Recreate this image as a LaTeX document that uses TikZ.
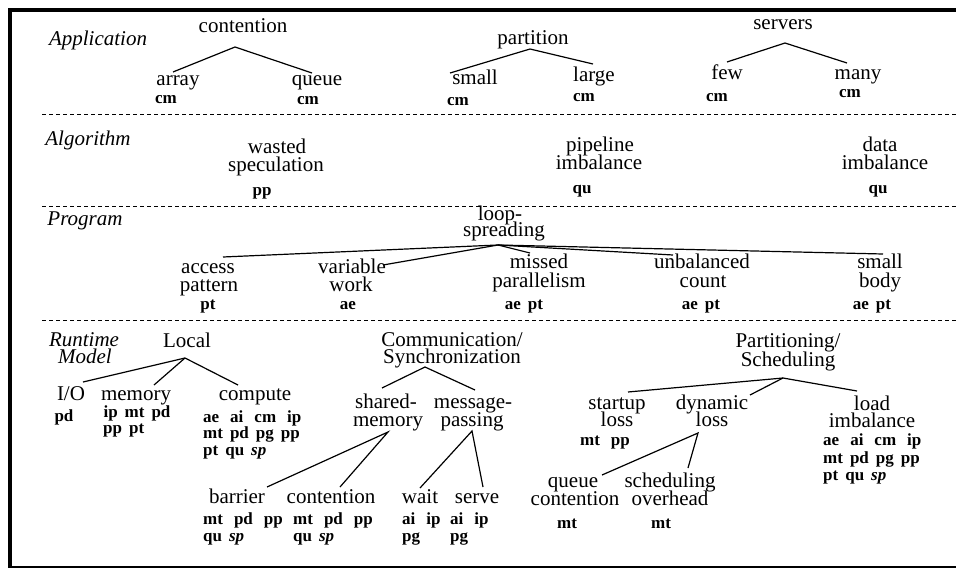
\documentclass[tikz,border=0pt]{standalone}
\usepackage{fontspec}
\setmainfont{Liberation Serif}
\newcommand{\cg}{\hspace{11pt}}
\newcommand{\codefont}{\fontsize{17}{17}\selectfont\bfseries\spaceskip 7pt\relax}
\begin{document}
\begin{tikzpicture}[x=1pt,y=-1pt,
  lab/.style={font=\fontsize{21}{21}\selectfont, anchor=base, inner sep=0pt},
  lvl/.style={font=\fontsize{21}{21}\selectfont\itshape, anchor=base, inner sep=0pt},
  code/.style={font=\codefont, anchor=base, inner sep=0pt},
  codel/.style={code, anchor=base west},
  edge/.style={line width=1.2pt},
  sep/.style={dash pattern=on 4pt off 3pt, line width=0.9pt}]
\useasboundingbox (0,0) rectangle (956,570);
% frame
\draw[line width=4pt] (8,10) -- (956,10);
\draw[line width=4pt] (10,8) -- (10,568);
\draw[line width=2pt] (8,567) -- (956,567);
% separators
\draw[sep] (42,114) -- (956,114);
\draw[sep] (42,206) -- (956,206);
\draw[sep] (42,320) -- (956,320);
% level labels
\node[lvl] (lApp) at (98,45) {Application};
\node[lvl] (lAlg) at (88,145) {Algorithm};
\node[lvl] (lPrg) at (85,225) {Program};
\node[lvl] (lRt1) at (84,346) {Runtime};
\node[lvl] (lRt2) at (85,363) {Model};
% ---------- Application ----------
\node[lab] (contention) at (243,32) {contention};
\node[lab] (array) at (178,85) {array};
\node[lab] (queue) at (317,85) {queue};
\node[code] (cmA) at (166,103) {cm};
\node[code] (cmQ) at (308,104) {cm};
\node[lab] (partition) at (533,44) {partition};
\node[lab] (smallP) at (475,84) {small};
\node[lab] (large) at (594,81) {large};
\node[code] (cmS) at (458,105) {cm};
\node[code] (cmL) at (584,101) {cm};
\node[lab] (servers) at (783,29) {servers};
\node[lab] (few) at (727,79) {few};
\node[lab] (many) at (858,79) {many};
\node[code] (cmF) at (717,101) {cm};
\node[code] (cmM) at (850,97) {cm};
\coordinate (ctT) at (235,47); \coordinate (ctL) at (173,72); \coordinate (ctR) at (312,73);
\coordinate (paT) at (530,49); \coordinate (paL) at (450,73); \coordinate (paR) at (593,64);
\coordinate (seT) at (785,43); \coordinate (seL) at (727,62); \coordinate (seR) at (847,63);
\draw[edge] (ctL) -- (ctT) -- (ctR);
\draw[edge] (paL) -- (paT) -- (paR);
\draw[edge] (seL) -- (seT) -- (seR);
% ---------- Algorithm ----------
\node[lab] (ws1) at (277,153) {wasted};
\node[lab] (ws2) at (276,171) {speculation};
\node[code] (wsC) at (262,195) {pp};
\node[lab] (pi1) at (600,151) {pipeline};
\node[lab] (pi2) at (599,169) {imbalance};
\node[code] (piC) at (582,193) {qu};
\node[lab] (di1) at (880,151) {data};
\node[lab] (di2) at (885,169) {imbalance};
\node[code] (diC) at (878,193) {qu};
% ---------- Program ----------
\node[lab] (ls1) at (500,220) {loop-};
\node[lab] (ls2) at (504,236) {spreading};
\node[lab] (ap1) at (208,273) {access};
\node[lab] (ap2) at (209,291) {pattern};
\node[code] (apC) at (208,309) {pt};
\node[lab] (vw1) at (352,273) {variable};
\node[lab] (vw2) at (351,291) {work};
\node[code] (vwC) at (348,309) {ae};
\node[lab] (mp1) at (539,268) {missed};
\node[lab] (mp2) at (539,287) {parallelism};
\node[code] (mpC) at (524,309) {ae pt};
\node[lab] (uc1) at (702,268) {unbalanced};
\node[lab] (uc2) at (703,287) {count};
\node[code] (ucC) at (701,309) {ae pt};
\node[lab] (sb1) at (880,268) {small};
\node[lab] (sb2) at (880,287) {body};
\node[code] (sbC) at (872,309) {ae pt};
\coordinate (lsT) at (498,245);
\coordinate (lsA) at (223,257); \coordinate (lsV) at (383,265);
\coordinate (lsM) at (530,253); \coordinate (lsU) at (673,255); \coordinate (lsS) at (883,254);
\draw[edge] (lsT) -- (lsA);
\draw[edge] (lsT) -- (lsV);
\draw[edge] (lsT) -- (lsM);
\draw[edge] (lsT) -- (lsU);
\draw[edge] (lsT) -- (lsS);
% ---------- Runtime: Local ----------
\node[lab] (local) at (187,347) {Local};
\node[lab] (io) at (71,400) {I/O};
\node[lab] (mem) at (136,400) {memory};
\node[lab] (comp) at (255,400) {compute};
\node[code] (ioC) at (64,421) {pd};
\node[code] (memC1) at (137,417) {ip mt pd};
\node[codel] (memC2) at (103,433) {pp pt};
\node[codel] (coC1) at (203,422) {ae\cg ai\cg cm\cg ip};
\node[codel] (coC2) at (203,438) {mt pd pg pp};
\node[codel] (coC3) at (203,455) {pt qu \textit{sp}};
\coordinate (loT) at (185,358);
\coordinate (loI) at (83,382); \coordinate (loM) at (154,385); \coordinate (loC) at (238,385);
\draw[edge] (loT) -- (loI);
\draw[edge] (loT) -- (loM);
\draw[edge] (loT) -- (loC);
% ---------- Runtime: Communication ----------
\node[lab] (cs1) at (452,346) {Communication/};
\node[lab] (cs2) at (452,363) {Synchronization};
\node[lab] (sh1) at (386,408) {shared-};
\node[lab] (sh2) at (388,426) {memory};
\node[lab] (ms1) at (473,408) {message-};
\node[lab] (ms2) at (472,426) {passing};
\node[lab] (bar) at (237,503) {barrier};
\node[lab] (cont) at (331,503) {contention};
\node[lab] (wait) at (420,503) {wait};
\node[lab] (serve) at (477,503) {serve};
\node[codel] (barC1) at (203,524) {mt\cg pd\cg pp};
\node[codel] (barC2) at (203,541) {qu \textit{sp}};
\node[codel] (conC1) at (293,524) {mt\cg pd\cg pp};
\node[codel] (conC2) at (293,541) {qu \textit{sp}};
\node[codel] (waC1) at (402,524) {ai\cg ip};
\node[codel] (waC2) at (402,541) {pg};
\node[codel] (svC1) at (450,524) {ai\cg ip};
\node[codel] (svC2) at (450,541) {pg};
\coordinate (csT) at (425,367); \coordinate (csL) at (382,388); \coordinate (csR) at (475,390);
\coordinate (shT) at (388,432); \coordinate (shL) at (267,487); \coordinate (shR) at (340,487);
\coordinate (msT) at (472,431); \coordinate (msL) at (420,488); \coordinate (msR) at (483,487);
\draw[edge] (csL) -- (csT) -- (csR);
\draw[edge] (shL) -- (shT) -- (shR);
\draw[edge] (msL) -- (msT) -- (msR);
% ---------- Runtime: Partitioning ----------
\node[lab] (ps1) at (788,347) {Partitioning/};
\node[lab] (ps2) at (788,366) {Scheduling};
\node[lab] (st1) at (617,409) {startup};
\node[lab] (st2) at (617,426) {loss};
\node[code] (stC) at (605,445) {mt\cg pp};
\node[lab] (dy1) at (712,409) {dynamic};
\node[lab] (dy2) at (712,426) {loss};
\node[lab] (qc1) at (573,487) {queue};
\node[lab] (qc2) at (575,505) {contention};
\node[code] (qcC) at (567,528) {mt};
\node[lab] (so1) at (670,487) {scheduling};
\node[lab] (so2) at (670,505) {overhead};
\node[code] (soC) at (661,528) {mt};
\node[lab] (li1) at (872,410) {load};
\node[lab] (li2) at (872,427) {imbalance};
\node[codel] (liC1) at (823,445) {ae\cg ai\cg cm\cg ip};
\node[codel] (liC2) at (823,463) {mt pd pg pp};
\node[codel] (liC3) at (823,480) {pt qu \textit{sp}};
\coordinate (psT) at (783,378);
\coordinate (psS) at (628,392); \coordinate (psD) at (750,395); \coordinate (psL) at (857,391);
\coordinate (dyT) at (698,433); \coordinate (dyQ) at (602,475); \coordinate (dyS) at (688,468);
\draw[edge] (psT) -- (psS);
\draw[edge] (psT) -- (psD);
\draw[edge] (psT) -- (psL);
\draw[edge] (dyQ) -- (dyT) -- (dyS);
\end{tikzpicture}
\end{document}
